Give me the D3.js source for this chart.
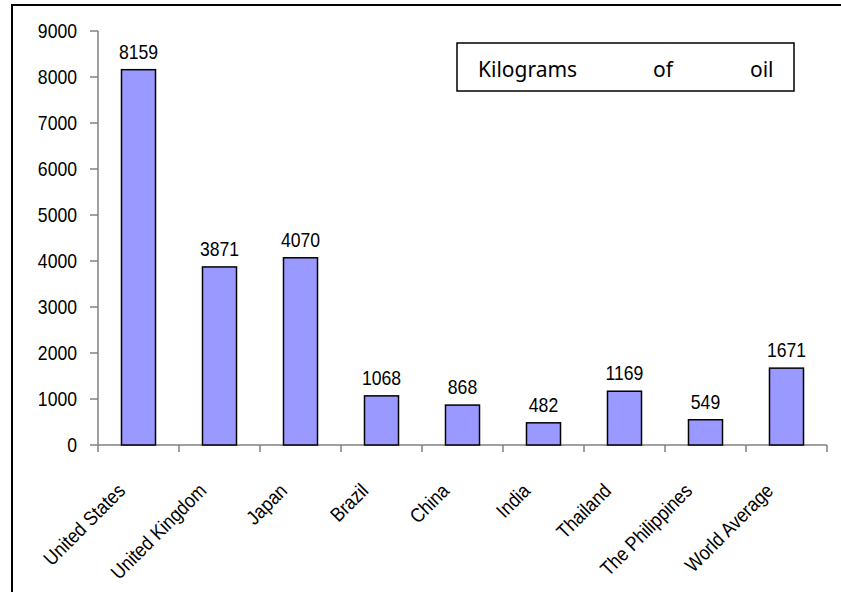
<!DOCTYPE html>
<html>
<head>
<meta charset="utf-8">
<script src="https://cdn.jsdelivr.net/npm/d3@7"></script>
<style>
  body { margin: 0; background: #fff; }
  svg { display: block; }
  .tick-text, .value-text, .cat-text { font-family: "Liberation Sans", Arial, sans-serif; font-size: 20px; fill: #000; }
  .legend-text { font-family: "Noto Sans", "Open Sans", sans-serif; font-size: 21px; fill: #000; }
</style>
</head>
<body>
<div id="chart"></div>
<script>
const categories = ["United States", "United Kingdom", "Japan", "Brazil", "China", "India", "Thailand", "The Philippines", "World Average"];
const values = [8159, 3871, 4070, 1068, 868, 482, 1169, 549, 1671];
const yTicks = [0, 1000, 2000, 3000, 4000, 5000, 6000, 7000, 8000, 9000];
const legendWords = ["Kilograms", "of", "oil"];

const width = 841;
const height = 592;
const margin = { top: 31, right: 14, bottom: 147, left: 98 };
const squeeze = 0.88; // the original text is a little condensed

const svg = d3.select("#chart")
  .append("svg")
  .attr("width", width)
  .attr("height", height);

// outer frame, cropped on the right and bottom
svg.append("rect")
  .attr("x", 12)
  .attr("y", 5)
  .attr("width", 860)
  .attr("height", 620)
  .attr("fill", "none")
  .attr("stroke", "#000")
  .attr("stroke-width", 2);

const x = d3.scaleBand()
  .domain(categories)
  .range([margin.left, width - margin.right])
  .paddingInner(0.58)
  .paddingOuter(0.29);

const y = d3.scaleLinear()
  .domain([0, 9000])
  .range([height - margin.bottom, margin.top]);

const axisColor = "#808080";

// y axis
const gy = svg.append("g").attr("class", "y-axis");
gy.append("line")
  .attr("x1", margin.left).attr("x2", margin.left)
  .attr("y1", y(9000)).attr("y2", y(0))
  .attr("stroke", axisColor).attr("stroke-width", 1.5);
gy.selectAll(".tick")
  .data(yTicks)
  .join("line")
  .attr("class", "tick")
  .attr("x1", margin.left - 8).attr("x2", margin.left)
  .attr("y1", (d) => y(d)).attr("y2", (d) => y(d))
  .attr("stroke", axisColor).attr("stroke-width", 1.5);
gy.selectAll(".tick-text")
  .data(yTicks)
  .join("text")
  .attr("class", "tick-text")
  .attr("transform", (d) => `translate(${margin.left - 21},${y(d)}) scale(${squeeze},1)`)
  .attr("dy", "0.35em")
  .attr("text-anchor", "end")
  .text((d) => d);

// x axis
const step = x.step();
const x0 = margin.left;
const x1 = width - margin.right;
const gx = svg.append("g").attr("class", "x-axis");
gx.append("line")
  .attr("x1", x0).attr("x2", x1)
  .attr("y1", y(0)).attr("y2", y(0))
  .attr("stroke", axisColor).attr("stroke-width", 1.5);
gx.selectAll(".tick")
  .data(d3.range(categories.length + 1))
  .join("line")
  .attr("class", "tick")
  .attr("x1", (i) => x0 + i * step).attr("x2", (i) => x0 + i * step)
  .attr("y1", y(0)).attr("y2", y(0) + 7)
  .attr("stroke", axisColor).attr("stroke-width", 1.5);

// bars
svg.append("g")
  .selectAll("rect")
  .data(values)
  .join("rect")
  .attr("x", (d, i) => x(categories[i]))
  .attr("y", (d) => y(d))
  .attr("width", x.bandwidth())
  .attr("height", (d) => y(0) - y(d))
  .attr("fill", "#9999FF")
  .attr("stroke", "#000")
  .attr("stroke-width", 1.5);

// value labels
svg.append("g")
  .selectAll("text")
  .data(values)
  .join("text")
  .attr("class", "value-text")
  .attr("transform", (d, i) => {
    const cx = x(categories[i]) + x.bandwidth() / 2;
    return `translate(${cx},${y(d) - 11}) scale(${squeeze},1)`;
  })
  .attr("text-anchor", "middle")
  .text((d) => d);

// category labels
svg.append("g")
  .selectAll("text")
  .data(categories)
  .join("text")
  .attr("class", "cat-text")
  .attr("text-anchor", "end")
  .attr("transform", (d) => {
    const cx = x(d) + x.bandwidth() / 2 - 12;
    return `translate(${cx},${y(0) + 47}) rotate(-45) scale(${squeeze},1)`;
  })
  .text((d) => d);

// legend
const legend = svg.append("g").attr("class", "legend");
legend.append("rect")
  .attr("x", 457).attr("y", 43)
  .attr("width", 337).attr("height", 48)
  .attr("fill", "#fff")
  .attr("stroke", "#000")
  .attr("stroke-width", 1.5);
const legendX = [478, 653, 750];
legend.selectAll("text")
  .data(legendWords)
  .join("text")
  .attr("class", "legend-text")
  .attr("x", (d, i) => legendX[i])
  .attr("y", 77)
  .text((d) => d);
</script>
</body>
</html>
